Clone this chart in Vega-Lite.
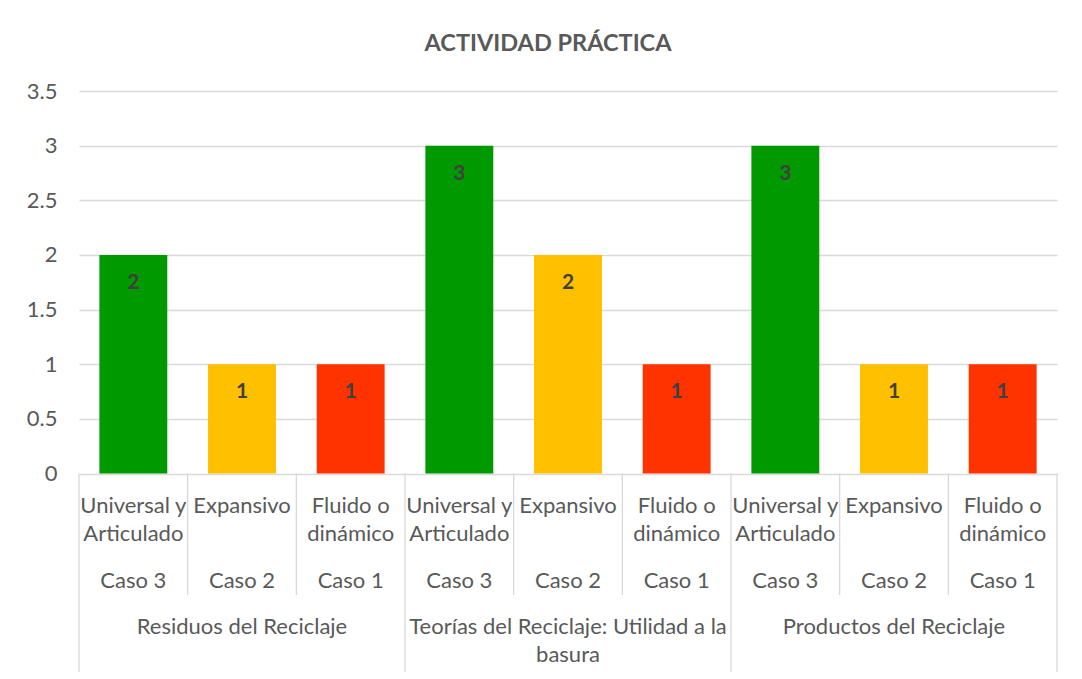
{
  "$schema": "https://vega.github.io/schema/vega-lite/v6.json",
  "autosize": {"type": "none"},
  "padding": {"left": 79, "top": 91, "right": 25, "bottom": 7},
  "width": 978,
  "height": 581,
  "background": "white",
  "title": {
    "text": "ACTIVIDAD PRÁCTICA",
    "font": "Lato",
    "fontSize": 23.5,
    "fontWeight": "bold",
    "color": "#595959",
    "anchor": "middle",
    "frame": "group",
    "baseline": "alphabetic",
    "offset": 6,
    "dx": -20
  },
  "data": {
    "values": [
      {"clave": "Residuos del Reciclaje / Caso 3", "grupo": "Residuos del Reciclaje", "caso": "Caso 3", "nivel": "Universal y\nArticulado", "valor": 2},
      {"clave": "Residuos del Reciclaje / Caso 2", "grupo": "Residuos del Reciclaje", "caso": "Caso 2", "nivel": "Expansivo", "valor": 1},
      {"clave": "Residuos del Reciclaje / Caso 1", "grupo": "Residuos del Reciclaje", "caso": "Caso 1", "nivel": "Fluido o\ndinámico", "valor": 1},
      {"clave": "Teorías del Reciclaje / Caso 3", "grupo": "Teorías del Reciclaje: Utilidad a la\nbasura", "caso": "Caso 3", "nivel": "Universal y\nArticulado", "valor": 3},
      {"clave": "Teorías del Reciclaje / Caso 2", "grupo": "Teorías del Reciclaje: Utilidad a la\nbasura", "caso": "Caso 2", "nivel": "Expansivo", "valor": 2},
      {"clave": "Teorías del Reciclaje / Caso 1", "grupo": "Teorías del Reciclaje: Utilidad a la\nbasura", "caso": "Caso 1", "nivel": "Fluido o\ndinámico", "valor": 1},
      {"clave": "Productos del Reciclaje / Caso 3", "grupo": "Productos del Reciclaje", "caso": "Caso 3", "nivel": "Universal y\nArticulado", "valor": 3},
      {"clave": "Productos del Reciclaje / Caso 2", "grupo": "Productos del Reciclaje", "caso": "Caso 2", "nivel": "Expansivo", "valor": 1},
      {"clave": "Productos del Reciclaje / Caso 1", "grupo": "Productos del Reciclaje", "caso": "Caso 1", "nivel": "Fluido o\ndinámico", "valor": 1}
    ]
  },
  "layer": [
    {
      "mark": {"type": "bar"},
      "encoding": {
        "x": {"field": "clave", "type": "nominal", "sort": null, "axis": null,
              "scale": {"paddingInner": 0.375, "paddingOuter": 0.1875}},
        "y": {"field": "valor", "type": "quantitative",
              "scale": {"domain": [-1.816, 3.5], "nice": false, "zero": false},
              "axis": {"values": [0, 0.5, 1, 1.5, 2, 2.5, 3, 3.5], "format": "~g", "title": null,
                       "domain": false, "ticks": false, "grid": true, "gridColor": "#d9d9d9", "gridWidth": 1.3,
                       "labelFont": "Lato", "labelFontSize": 22, "labelColor": "#595959", "labelPadding": 22}},
        "color": {"field": "caso", "type": "nominal", "legend": null,
                  "scale": {"domain": ["Caso 3", "Caso 2", "Caso 1"], "range": ["#009900", "#FFC000", "#FF3300"]}}
      }
    },
    {
      "mark": {"type": "text", "font": "Lato", "fontSize": 21, "fontWeight": "bold", "color": "#404040", "baseline": "alphabetic", "dy": 34},
      "encoding": {
        "x": {"field": "clave", "type": "nominal", "sort": null},
        "y": {"field": "valor", "type": "quantitative"},
        "text": {"field": "valor", "type": "quantitative"}
      }
    },
    {
      "mark": {"type": "text", "font": "Lato", "fontSize": 22, "color": "#595959", "baseline": "alphabetic", "lineBreak": "\n", "lineHeight": 28},
      "encoding": {
        "x": {"field": "clave", "type": "nominal", "sort": null},
        "y": {"datum": -0.359},
        "text": {"field": "nivel"}
      }
    },
    {
      "mark": {"type": "text", "font": "Lato", "fontSize": 22, "color": "#595959", "baseline": "alphabetic"},
      "encoding": {
        "x": {"field": "clave", "type": "nominal", "sort": null},
        "y": {"datum": -1.045},
        "text": {"field": "caso"}
      }
    },
    {
      "transform": [{"filter": "datum.caso === 'Caso 2'"}],
      "mark": {"type": "text", "font": "Lato", "fontSize": 22, "color": "#595959", "baseline": "alphabetic", "lineBreak": "\n", "lineHeight": 28},
      "encoding": {
        "x": {"field": "clave", "type": "nominal", "sort": null},
        "y": {"datum": -1.471},
        "text": {"field": "grupo"}
      }
    },
    {
      "transform": [{"filter": "datum.caso !== 'Caso 3'"}],
      "mark": {"type": "rule", "color": "#d9d9d9", "strokeWidth": 1.3},
      "encoding": {
        "x": {"field": "clave", "type": "nominal", "sort": null, "bandPosition": -0.3},
        "y": {"datum": 0},
        "y2": {"datum": -1.112}
      }
    },
    {
      "transform": [{"filter": "datum.caso === 'Caso 3'"}],
      "mark": {"type": "rule", "color": "#d9d9d9", "strokeWidth": 1.3},
      "encoding": {
        "x": {"field": "clave", "type": "nominal", "sort": null, "bandPosition": -0.3},
        "y": {"datum": 0},
        "y2": {"datum": -1.816}
      }
    },
    {
      "transform": [{"filter": "datum.clave === 'Productos del Reciclaje / Caso 1'"}],
      "mark": {"type": "rule", "color": "#d9d9d9", "strokeWidth": 1.3},
      "encoding": {
        "x": {"field": "clave", "type": "nominal", "sort": null, "bandPosition": 1.3},
        "y": {"datum": 0},
        "y2": {"datum": -1.816}
      }
    }
  ],
  "config": {
    "view": {"stroke": null}
  }
}
